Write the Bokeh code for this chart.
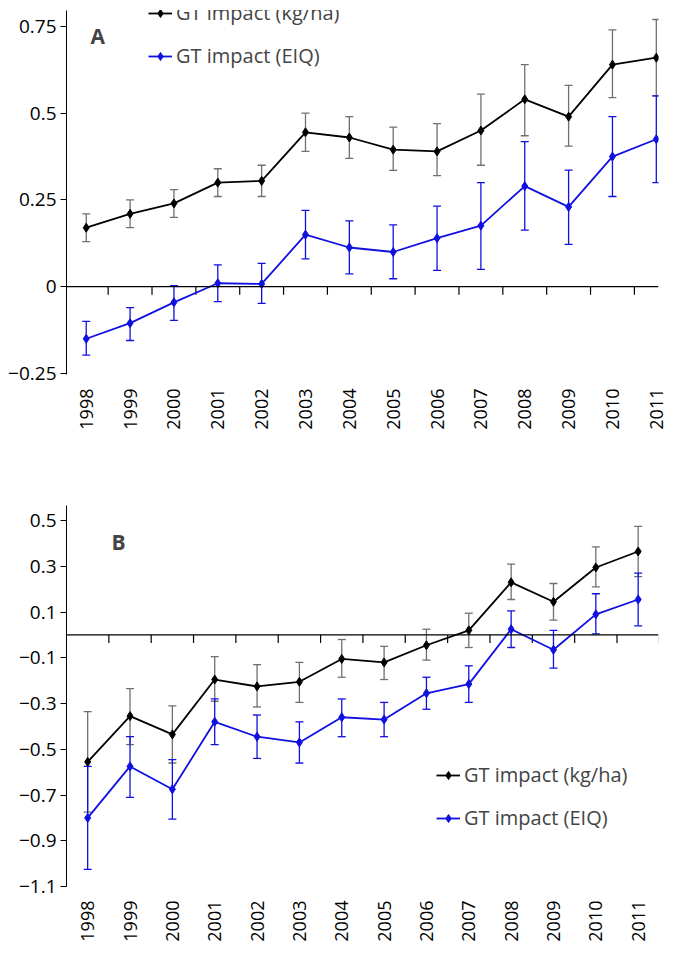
import math
from bokeh.plotting import figure
from bokeh.layouts import column
from bokeh.models import Range1d, FixedTicker, Whisker, ColumnDataSource, Span, Legend, LegendItem, Label, TeeHead
from bokeh.embed import file_html
from bokeh.resources import INLINE

years = list(range(1998, 2012))

a_kg = [0.17, 0.21, 0.24, 0.30, 0.305, 0.445, 0.43, 0.395, 0.39, 0.45, 0.54, 0.49, 0.64, 0.66]
a_kg_lo = [0.13, 0.17, 0.20, 0.26, 0.26, 0.39, 0.37, 0.335, 0.32, 0.35, 0.435, 0.405, 0.545, 0.55]
a_kg_hi = [0.21, 0.25, 0.28, 0.34, 0.35, 0.50, 0.49, 0.46, 0.47, 0.555, 0.64, 0.58, 0.74, 0.77]
a_eiq = [-0.15, -0.105, -0.045, 0.01, 0.008, 0.15, 0.113, 0.10, 0.14, 0.176, 0.29, 0.23, 0.375, 0.425]
a_eiq_lo = [-0.197, -0.155, -0.097, -0.043, -0.048, 0.08, 0.037, 0.023, 0.047, 0.05, 0.163, 0.122, 0.26, 0.30]
a_eiq_hi = [-0.10, -0.06, 0.003, 0.063, 0.067, 0.22, 0.19, 0.178, 0.232, 0.30, 0.418, 0.336, 0.49, 0.55]

b_kg = [-0.555, -0.355, -0.435, -0.195, -0.225, -0.205, -0.105, -0.12, -0.045, 0.02, 0.23, 0.145, 0.295, 0.365]
b_kg_lo = [-0.775, -0.48, -0.56, -0.29, -0.315, -0.295, -0.185, -0.195, -0.11, -0.055, 0.155, 0.065, 0.21, 0.255]
b_kg_hi = [-0.335, -0.235, -0.31, -0.095, -0.13, -0.12, -0.02, -0.05, 0.025, 0.095, 0.31, 0.225, 0.385, 0.475]
b_eiq = [-0.80, -0.575, -0.675, -0.38, -0.445, -0.47, -0.36, -0.37, -0.255, -0.215, 0.025, -0.065, 0.09, 0.155]
b_eiq_lo = [-1.025, -0.71, -0.805, -0.48, -0.54, -0.56, -0.445, -0.445, -0.325, -0.295, -0.055, -0.145, 0.005, 0.04]
b_eiq_hi = [-0.575, -0.445, -0.545, -0.28, -0.35, -0.38, -0.28, -0.295, -0.185, -0.135, 0.105, 0.02, 0.18, 0.27]

a_ticks = [-0.25, 0, 0.25, 0.5, 0.75]
b_ticks = [-1.1, -0.9, -0.7, -0.5, -0.3, -0.1, 0.1, 0.3, 0.5]
labels = ["GT impact (kg/ha)", "GT impact (EIQ)"]
FONT = "Open Sans"
BLUE = "#1010e0"


def panel(h, bt, bb, bl, br, xr, yr, ticks, tick_fmt, kg, kglo, kghi, eiq, eqlo, eqhi, tick_len, letter, lx, ly, legloc):
    p = figure(width=682, height=h, output_backend="svg", toolbar_location=None,
               x_range=Range1d(*xr), y_range=Range1d(*yr),
               min_border_top=bt, min_border_bottom=bb, min_border_left=bl, min_border_right=br)
    p.outline_line_color = None
    p.grid.grid_line_color = None
    p.xaxis.ticker = FixedTicker(ticks=years)
    p.xaxis.major_label_orientation = math.pi / 2
    p.xaxis.axis_line_color = None
    p.xaxis.major_tick_line_color = None
    p.xaxis.minor_tick_line_color = None
    p.xaxis.major_label_text_font = FONT
    p.xaxis.major_label_text_font_size = "18px"
    p.xaxis.major_label_text_color = "black"
    p.xaxis.major_label_standoff = 8
    p.yaxis.ticker = FixedTicker(ticks=ticks)
    p.yaxis.major_label_overrides = {t: tick_fmt(t) for t in ticks}
    p.yaxis.minor_tick_line_color = None
    p.yaxis.major_tick_in = 0
    p.yaxis.major_tick_out = 6
    p.yaxis.major_label_standoff = 4
    p.yaxis.axis_line_color = "black"
    p.yaxis.major_label_text_font = FONT
    p.yaxis.major_label_text_font_size = "19px"
    p.yaxis.major_label_text_color = "black"

    p.add_layout(Span(location=0, dimension="width", line_color="black", line_width=1.2))
    bounds = [y + 0.5 for y in years]
    p.segment(x0=bounds, x1=bounds, y0=[0] * len(bounds), y1=[-tick_len] * len(bounds), line_color="black", line_width=1.2)

    rends = []
    for vals, lo, hi, col, ecol in [(kg, kglo, kghi, "black", "#707070"), (eiq, eqlo, eqhi, BLUE, BLUE)]:
        src = ColumnDataSource(dict(x=years, y=vals, lo=lo, hi=hi))
        p.add_layout(Whisker(source=src, base="x", lower="lo", upper="hi", line_color=ecol, line_width=1.3,
                             upper_head=TeeHead(size=8, line_color=ecol, line_width=1.3),
                             lower_head=TeeHead(size=8, line_color=ecol, line_width=1.3)))
        l = p.line("x", "y", source=src, line_color=col, line_width=1.8)
        s = p.scatter("x", "y", source=src, marker="diamond", size=9, color=col)
        rends.append([l, s])
    leg = Legend(items=[LegendItem(label=labels[i], renderers=rends[i]) for i in range(2)],
                 location=legloc, background_fill_alpha=0, border_line_color=None,
                 label_text_font=FONT, label_text_font_size="20px", glyph_width=24,
                 label_standoff=4, spacing=16, padding=0, margin=0)
    p.add_layout(leg, "center")
    p.add_layout(Label(x=lx, y=ly, x_units="screen", y_units="screen", text=letter,
                       text_font=FONT, text_font_style="bold", text_font_size="21px"))
    return p


def fa(t):
    return "0" if t == 0 else ("\u22120.25" if t < 0 else ("%g" % t))


def fb(t):
    return ("\u2212%.1f" % -t) if t < 0 else ("%.1f" % t)


pa = panel(432, 10, 55, 66, 16, (1997.55, 2011.05), (-0.253, 0.796), a_ticks, fa,
           a_kg, a_kg_lo, a_kg_hi, a_eiq, a_eiq_lo, a_eiq_hi, 0.023, "A", 24, 325, (82, 305))
pb = panel(516, 73, 62, 42, 24, (1997.5, 2011.48), (-1.1, 0.566), b_ticks, fb,
           b_kg, b_kg_lo, b_kg_hi, b_eiq, b_eiq_lo, b_eiq_hi, 0.035, "B", 45, 331, (370, 55))

layout = column(pa, pb, spacing=0)
open("out.html", "w").write(file_html(layout, INLINE))
